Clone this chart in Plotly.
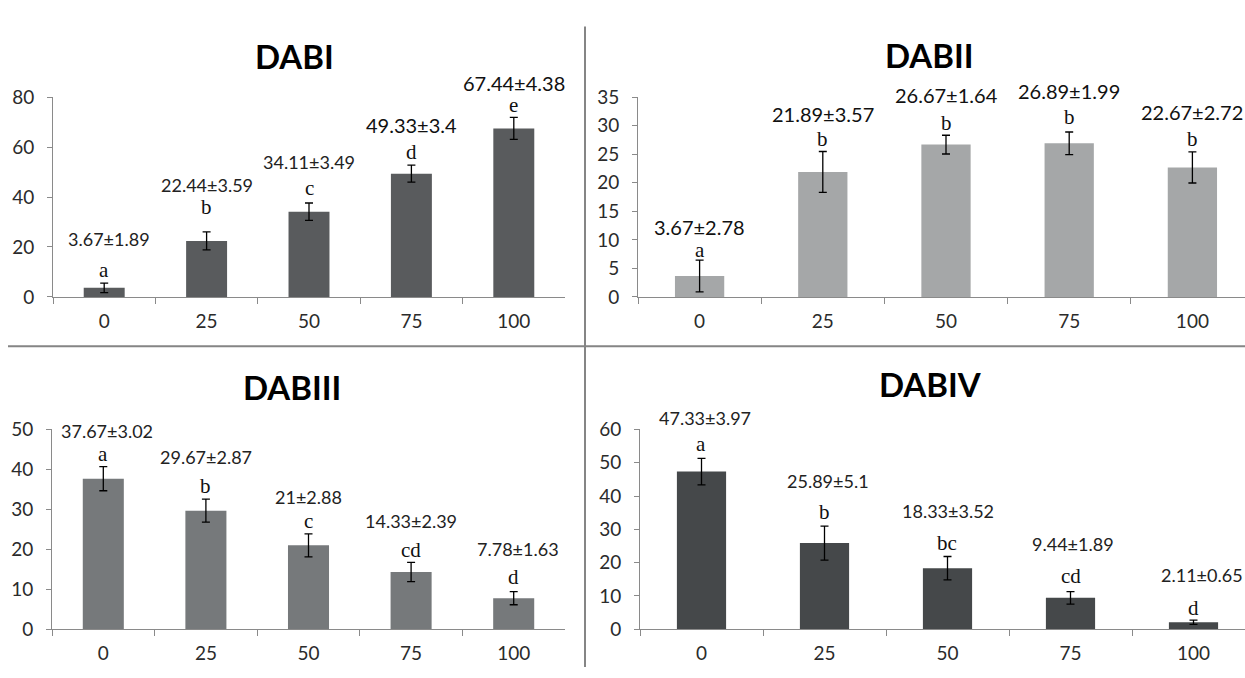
import plotly.graph_objects as go

# Doses (x categories) shared by all four panels
doses = ["0", "25", "50", "75", "100"]

# DABI
dabi_mean = [3.67, 22.44, 34.11, 49.33, 67.44]
dabi_sd = [1.89, 3.59, 3.49, 3.4, 4.38]
dabi_letters = ["a", "b", "c", "d", "e"]

# DABII
dabii_mean = [3.67, 21.89, 26.67, 26.89, 22.67]
dabii_sd = [2.78, 3.57, 1.64, 1.99, 2.72]
dabii_letters = ["a", "b", "b", "b", "b"]

# DABIII
dabiii_mean = [37.67, 29.67, 21, 14.33, 7.78]
dabiii_sd = [3.02, 2.87, 2.88, 2.39, 1.63]
dabiii_letters = ["a", "b", "c", "cd", "d"]

# DABIV
dabiv_mean = [47.33, 25.89, 18.33, 9.44, 2.11]
dabiv_sd = [3.97, 5.1, 3.52, 1.89, 0.65]
dabiv_letters = ["a", "b", "bc", "cd", "d"]

W, H = 1245, 678

def px_x(p):
    return p / W

def px_y(p):
    return 1 - p / H

AXIS_COL = "#8a8a8a"
TEXT_COL = "#2b2b2b"

panels = [
    dict(name="DABI", mean=dabi_mean, sd=dabi_sd, letters=dabi_letters,
         color="#595b5d", xdom=(53, 565), ydom=(295, 88), yr=(0, 80), dtick=20,
         xend=4.5, title_xy=(294, 46),
         letter_shift=[12.6, 24.6, 14.7, 13.6, 12.2],
         label_shift=[43.6, 46.5, 41.5, 40.6, 34.2],
         label_size=[18, 18, 18, 20, 20], label_col=["#222"] * 3 + ["#111"] * 2,
         label_dx=[5, 0, 0, 0, 0]),
    dict(name="DABII", mean=dabii_mean, sd=dabii_sd, letters=dabii_letters,
         color="#a5a7a8", xdom=(638, 1245), ydom=(295, 88), yr=(0, 35), dtick=5,
         xend=-0.5 + (1245 - 638) / 123.2, title_xy=(929, 44),
         letter_shift=[10, 12.4, 12.6, 15.2, 12.8],
         label_shift=[33, 38, 40.6, 41.2, 39.8],
         label_size=[20] * 5, label_col=["#111"] * 5,
         label_dx=[0, 0, 0, 0, 0]),
    dict(name="DABIII", mean=dabiii_mean, sd=dabiii_sd, letters=dabiii_letters,
         color="#76797b", xdom=(52, 565), ydom=(639, 432), yr=(0, 50), dtick=10,
         xend=4.5, title_xy=(292, 388),
         letter_shift=[12.5, 13.3, 13.1, 12.8, 15],
         label_shift=[35.5, 42.3, 37.1, 41.8, 43],
         label_size=[18] * 5, label_col=["#222"] * 5,
         label_dx=[4, 0, 0, 0, 4]),
    dict(name="DABIV", mean=dabiv_mean, sd=dabiv_sd, letters=dabiv_letters,
         color="#45484a", xdom=(640, 1245), ydom=(639, 432), yr=(0, 60), dtick=10,
         xend=-0.5 + (1245 - 640) / 123.0, title_xy=(931, 385),
         letter_shift=[14, 14.1, 13.6, 15.9, 12.5],
         label_shift=[40, 45.1, 45.6, 47.9, 45.5],
         label_size=[18] * 5, label_col=["#222"] * 5,
         label_dx=[4, 4, 1, 2, 8]),
]

fig = go.Figure()
annotations = []
layout_axes = {}

for i, p in enumerate(panels, start=1):
    xa = "x" if i == 1 else f"x{i}"
    ya = "y" if i == 1 else f"y{i}"
    fig.add_trace(go.Bar(
        x=doses, y=p["mean"], xaxis=xa, yaxis=ya,
        marker=dict(color=p["color"], line=dict(width=0)),
        error_y=dict(type="data", array=p["sd"], visible=True,
                     color="#000000", thickness=1.3, width=4),
        showlegend=False, hoverinfo="skip",
    ))
    layout_axes["xaxis" if i == 1 else f"xaxis{i}"] = dict(
        domain=[px_x(p["xdom"][0]), px_x(p["xdom"][1])],
        anchor=ya, type="category", range=[-0.5, p["xend"]],
        showline=True, linecolor=AXIS_COL, linewidth=1,
        ticks="outside", ticklen=6, tickcolor=AXIS_COL, tickwidth=1,
        tickson="boundaries", showgrid=False, zeroline=False,
        tickfont=dict(family="Lato", size=19, color=TEXT_COL),
        ticklabelstandoff=7,
    )
    layout_axes["yaxis" if i == 1 else f"yaxis{i}"] = dict(
        domain=[px_y(p["ydom"][0]), px_y(p["ydom"][1])],
        anchor=xa, range=list(p["yr"]), dtick=p["dtick"], tick0=0,
        showline=True, linecolor=AXIS_COL, linewidth=1,
        ticks="outside", ticklen=5, tickcolor=AXIS_COL, tickwidth=1,
        showgrid=False, zeroline=False,
        tickfont=dict(family="Lato", size=19, color=TEXT_COL),
        ticklabelstandoff=9,
    )
    # panel title
    annotations.append(dict(
        text=f"<b>{p['name']}</b>", xref="paper", yref="paper",
        x=px_x(p["title_xy"][0]), y=px_y(p["title_xy"][1]),
        xanchor="center", yanchor="middle", showarrow=False,
        font=dict(family="Lato", size=33, color="#000"),
    ))
    # mean±sd labels and significance letters above each error bar
    for k in range(len(doses)):
        top = p["mean"][k] + p["sd"][k]
        annotations.append(dict(
            text=p["letters"][k], x=k, y=top, xref=xa, yref=ya,
            yshift=p["letter_shift"][k], xanchor="center", yanchor="middle",
            showarrow=False,
            font=dict(family="Liberation Serif", size=21, color="#111"),
        ))
        annotations.append(dict(
            text=f"{p['mean'][k]:g}±{p['sd'][k]:g}", x=k, y=top,
            xref=xa, yref=ya, yshift=p["label_shift"][k],
            xshift=p["label_dx"][k], xanchor="center", yanchor="middle",
            showarrow=False,
            font=dict(family="Lato", size=p["label_size"][k],
                      color=p["label_col"][k]),
        ))

# separators between the four panels
shapes = [
    dict(type="line", xref="paper", yref="paper",
         x0=px_x(585), x1=px_x(585), y0=0, y1=px_y(15),
         line=dict(color="#858585", width=2)),
    dict(type="line", xref="paper", yref="paper",
         x0=px_x(8), x1=1, y0=px_y(346), y1=px_y(346),
         line=dict(color="#858585", width=2)),
]

fig.update_layout(
    width=W, height=H, margin=dict(l=0, r=0, t=0, b=0),
    paper_bgcolor="white", plot_bgcolor="white",
    bargap=0.6, annotations=annotations, shapes=shapes,
    **layout_axes,
)

fig.write_html("out.html")
